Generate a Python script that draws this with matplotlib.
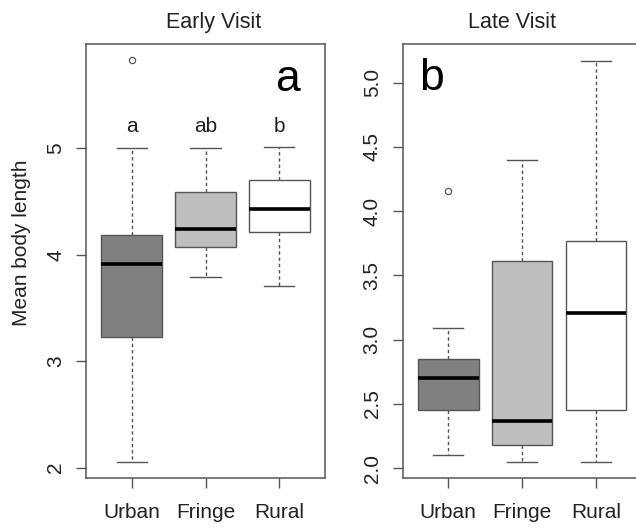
import matplotlib
matplotlib.use("Agg")
import matplotlib.pyplot as plt

plt.rcParams['font.family'] = ['Liberation Sans', 'DejaVu Sans']

groups = ["Urban", "Fringe", "Rural"]
box_colors = ["#808080", "#bebebe", "#ffffff"]

# Early visit (panel a)
early_whislo = [2.05, 3.79, 3.71]
early_q1 = [3.23, 4.07, 4.21]
early_med = [3.91, 4.24, 4.43]
early_q3 = [4.185, 4.59, 4.70]
early_whishi = [5.00, 5.00, 5.01]
early_fliers = [[5.83], [], []]
early_letters = ["a", "ab", "b"]

# Late visit (panel b)
late_whislo = [2.10, 2.05, 2.05]
late_q1 = [2.45, 2.18, 2.45]
late_med = [2.70, 2.37, 3.21]
late_q3 = [2.85, 3.61, 3.77]
late_whishi = [3.09, 4.40, 5.17]
late_fliers = [[4.16], [], []]

line_col = "#555555"
text_col = "#222222"


def make_stats(lo, q1, med, q3, hi, fl):
    stats = []
    for i in range(len(groups)):
        stats.append(dict(whislo=lo[i], q1=q1[i], med=med[i], q3=q3[i],
                          whishi=hi[i], fliers=fl[i], label=groups[i]))
    return stats


def draw_panel(ax, stats, ylim, yticks, ylabels):
    bp = ax.bxp(stats, positions=[1, 2, 3], widths=0.82, capwidths=0.41,
                patch_artist=True, showfliers=True,
                boxprops=dict(edgecolor=line_col, linewidth=1.0),
                medianprops=dict(color="black", linewidth=2.6, solid_capstyle="butt"),
                whiskerprops=dict(color=line_col, linewidth=1.0, linestyle=(0, (2.5, 2))),
                capprops=dict(color=line_col, linewidth=1.0),
                flierprops=dict(marker="o", markersize=4.5, markerfacecolor="none",
                                markeredgecolor=line_col, markeredgewidth=0.9))
    for patch, c in zip(bp["boxes"], box_colors):
        patch.set_facecolor(c)
    ax.set_xlim(0.38, 3.62)
    ax.set_ylim(*ylim)
    ax.set_yticks(yticks)
    ax.set_yticklabels(ylabels, rotation=90, va="center")
    ax.set_xticks([1, 2, 3])
    ax.set_xticklabels(groups)
    for s in ax.spines.values():
        s.set_color(line_col)
        s.set_linewidth(1.1)
    ax.tick_params(axis="both", colors=line_col, labelcolor=text_col,
                   labelsize=15, length=7, width=1.0)
    ax.tick_params(axis="x", pad=11)
    ax.tick_params(axis="y", pad=8)


fig = plt.figure(figsize=(6.36, 5.28), dpi=100)
ax1 = fig.add_axes([86 / 636, 50 / 528, 239 / 636, 434 / 528])
ax2 = fig.add_axes([402.5 / 636, 50.3 / 528, 239.3 / 636, 433.7 / 528])

draw_panel(ax1, make_stats(early_whislo, early_q1, early_med, early_q3,
                           early_whishi, early_fliers),
           (1.903, 5.98), [2, 3, 4, 5], ["2", "3", "4", "5"])
draw_panel(ax2, make_stats(late_whislo, late_q1, late_med, late_q3,
                           late_whishi, late_fliers),
           (1.927, 5.30), [2.0, 2.5, 3.0, 3.5, 4.0, 4.5, 5.0],
           ["2.0", "2.5", "3.0", "3.5", "4.0", "4.5", "5.0"])

for i, lab in enumerate(early_letters):
    ax1.text(i + 1, 5.155, lab, ha="center", va="baseline", fontsize=15, color=text_col)

ax1.text(3.11, 5.54, "a", ha="center", va="baseline", fontsize=32, color="black")
ax2.text(0.775, 4.94, "b", ha="center", va="baseline", fontsize=32, color="black")

fig.text(213.7 / 636, 1 - 28.3 / 528, "Early Visit", ha="center", va="baseline",
         fontsize=15.5, color=text_col)
fig.text(512 / 636, 1 - 28.3 / 528, "Late Visit", ha="center", va="baseline",
         fontsize=15.5, color=text_col)
fig.text(21.7 / 636, 1 - 242.5 / 528, "Mean body length", rotation=90,
         ha="center", va="center", fontsize=15, color=text_col)

fig.savefig("out.png", dpi=100)
